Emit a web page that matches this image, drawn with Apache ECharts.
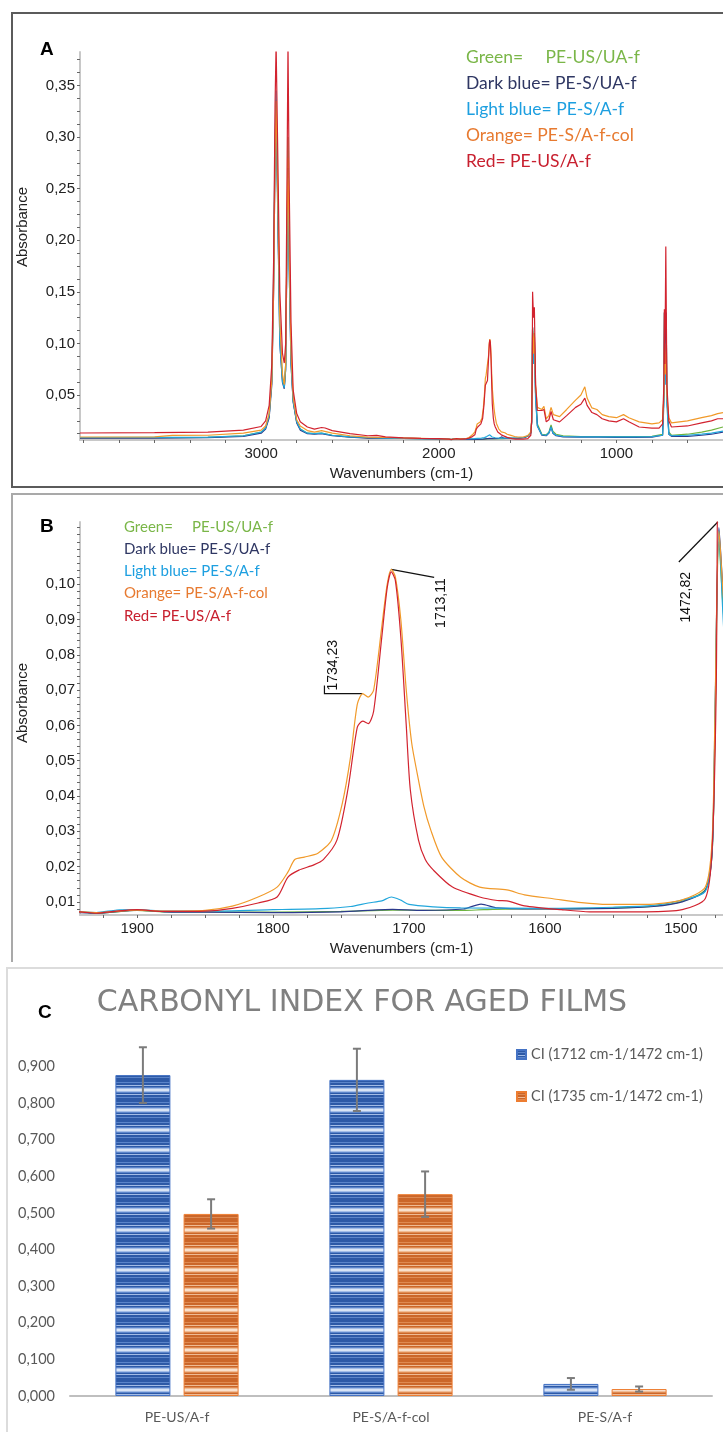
<!DOCTYPE html>
<html>
<head>
<meta charset="utf-8">
<script src="https://cdn.jsdelivr.net/npm/echarts@6/dist/echarts.min.js"></script>
<style>
html,body{margin:0;padding:0;background:#fff;}
#main{width:723px;height:1432px;}
</style>
</head>
<body>
<div id="main"></div>
<script>
// ---- spectra, [wavenumber, absorbance] ----
var specGreen = [[4020,0.0085],[3600,0.0087],[3300,0.0090],[3100,0.0105],[3000,0.014],[2975,0.018],[2955,0.030],[2940,0.065],[2930,0.16],[2922,0.29],[2916,0.336],[2908,0.25],[2895,0.11],[2880,0.065],[2870,0.058],[2862,0.08],[2855,0.20],[2849,0.30],[2842,0.19],[2832,0.085],[2820,0.045],[2800,0.024],[2780,0.017],[2740,0.013],[2700,0.0125],[2660,0.013],[2600,0.011],[2500,0.0095],[2400,0.0085],[2300,0.0082],[2100,0.0078],[2000,0.0074],
  [1942,0.0071],[1930,0.0068],[1900,0.0076],[1880,0.0072],[1850,0.0072],[1800,0.0071],[1750,0.0073],[1712,0.0077],[1690,0.0076],[1660,0.0076],[1645,0.0078],[1620,0.0080],[1600,0.0080],[1550,0.0083],[1520,0.0088],[1499,0.0102],[1482,0.0135],[1477,0.024],[1475,0.055],[1472,0.112],[1467,0.085],[1462,0.105],[1455,0.05],[1445,0.022],
  [1420,0.012],[1395,0.0115],[1380,0.014],[1368,0.021],[1358,0.015],[1340,0.012],[1300,0.0105],[1200,0.0098],[1100,0.0098],[1000,0.0097],[900,0.0098],[800,0.0100],[740,0.012],[733,0.05],[730,0.13],[725,0.08],[720,0.125],[716,0.05],[705,0.014],[690,0.011],[600,0.012],[520,0.014],[465,0.016],[400,0.019]];
var specDarkBlue = [[4020,0.0082],[3600,0.0083],[3300,0.0086],[3100,0.0098],[3000,0.013],[2975,0.017],[2955,0.028],[2940,0.06],[2930,0.15],[2922,0.28],[2916,0.33],[2908,0.24],[2895,0.10],[2880,0.062],[2870,0.056],[2862,0.075],[2855,0.19],[2849,0.27],[2842,0.17],[2832,0.08],[2820,0.043],[2800,0.023],[2780,0.016],[2740,0.0125],[2700,0.012],[2660,0.0125],[2600,0.0105],[2500,0.0092],[2400,0.0083],[2300,0.0081],[2100,0.0077],[2000,0.0073],
  [1942,0.0070],[1930,0.0068],[1900,0.0077],[1880,0.0072],[1850,0.0071],[1800,0.0070],[1750,0.0072],[1712,0.0079],[1690,0.0076],[1660,0.0080],[1647,0.0094],[1635,0.0083],[1600,0.0080],[1550,0.0082],[1520,0.0087],[1499,0.0100],[1482,0.0133],[1477,0.024],[1475,0.058],[1472,0.116],[1467,0.09],[1462,0.11],[1455,0.05],[1445,0.02],
  [1420,0.011],[1395,0.0105],[1380,0.013],[1368,0.019],[1358,0.013],[1340,0.0105],[1300,0.0095],[1200,0.0092],[1100,0.0092],[1000,0.0090],[900,0.0090],[800,0.0092],[740,0.011],[733,0.05],[730,0.13],[725,0.08],[720,0.13],[716,0.05],[705,0.012],[690,0.010],[600,0.010],[520,0.011],[465,0.012],[400,0.014]];
var specLightBlue = [[4020,0.0088],[3600,0.0089],[3300,0.0092],[3100,0.0105],[3000,0.014],[2975,0.018],[2955,0.03],[2940,0.065],[2930,0.17],[2922,0.30],[2916,0.345],[2908,0.25],[2895,0.10],[2880,0.063],[2870,0.057],[2862,0.075],[2855,0.19],[2849,0.26],[2842,0.17],[2832,0.08],[2820,0.044],[2800,0.024],[2780,0.017],[2740,0.013],[2700,0.0125],[2660,0.013],[2600,0.011],[2500,0.0095],[2400,0.0088],[2300,0.0083],[2100,0.0078],[2000,0.0075],
  [1942,0.0072],[1930,0.0070],[1915,0.0077],[1900,0.0078],[1880,0.0074],[1850,0.0074],[1800,0.0078],[1760,0.0082],[1743,0.0087],[1730,0.0097],[1720,0.0103],[1713,0.0114],[1706,0.0105],[1700,0.0093],[1682,0.0086],[1662,0.0083],[1600,0.0082],[1550,0.0085],[1520,0.0090],[1499,0.0105],[1482,0.0130],[1477,0.025],[1475,0.06],[1472,0.115],[1467,0.08],[1462,0.10],[1455,0.045],[1445,0.02],
  [1420,0.0115],[1395,0.011],[1380,0.0135],[1368,0.019],[1358,0.0135],[1340,0.011],[1300,0.0098],[1200,0.0095],[1100,0.0095],[1000,0.0094],[900,0.0094],[800,0.0096],[740,0.011],[733,0.04],[730,0.09],[725,0.06],[720,0.103],[716,0.04],[705,0.012],[690,0.0105],[600,0.011],[520,0.012],[465,0.013],[400,0.015]];
var specOrange = [[4020,0.0093],[3600,0.0095],[3500,0.0108],[3300,0.0110],[3100,0.0130],[3000,0.016],[2975,0.020],[2955,0.032],[2940,0.065],[2930,0.150],[2922,0.280],[2916,0.335],[2908,0.26],[2895,0.12],[2880,0.070],[2870,0.060],[2862,0.080],[2855,0.200],[2849,0.280],[2842,0.19],[2832,0.09],[2820,0.048],[2800,0.026],[2780,0.020],[2740,0.0155],[2700,0.014],[2660,0.0155],[2600,0.013],[2500,0.0105],[2400,0.0092],[2300,0.0088],[2100,0.0080],[2000,0.0076],
  [1942,0.0072],[1930,0.0070],[1900,0.0077],[1880,0.0074],[1850,0.0076],[1830,0.0088],[1811,0.0114],[1797,0.0142],[1789,0.0185],[1784,0.0220],[1777,0.0227],[1767,0.0238],[1757,0.0275],[1749,0.0380],[1743,0.0510],[1738,0.0660],[1734,0.0690],[1730,0.0680],[1726,0.0700],[1720,0.088],[1716,0.100],[1713,0.1042],[1710,0.102],[1706,0.090],[1702,0.070],[1698,0.055],[1694,0.0465],[1689,0.037],[1684,0.0304],[1676,0.0227],[1662,0.0170],[1648,0.0142],[1628,0.0134],[1615,0.0120],[1594,0.0109],[1573,0.0098],[1554,0.0093],[1526,0.0093],[1499,0.0106],[1482,0.0142],[1477,0.0275],[1475,0.061],[1472,0.115],[1467,0.09],[1462,0.11],[1455,0.06],[1445,0.038],
  [1420,0.036],[1408,0.039],[1395,0.027],[1380,0.030],[1368,0.038],[1355,0.031],[1320,0.029],[1280,0.036],[1230,0.045],[1200,0.050],[1178,0.058],[1165,0.047],[1138,0.0375],[1110,0.036],[1080,0.031],[1043,0.029],[1000,0.028],[960,0.031],[930,0.028],[872,0.024],[800,0.022],[760,0.023],[740,0.026],[733,0.05],[730,0.095],[725,0.07],[720,0.100],[716,0.05],[705,0.028],[690,0.023],[600,0.025],[520,0.028],[465,0.030],[430,0.032],[400,0.033]];
var specRed = [[4020,0.0132],[3600,0.0135],[3300,0.0140],[3100,0.0160],[3000,0.0195],[2975,0.025],[2955,0.040],[2940,0.080],[2930,0.180],[2922,0.330],[2916,0.39],[2908,0.30],[2895,0.15],[2880,0.090],[2870,0.081],[2862,0.100],[2855,0.250],[2849,0.39],[2842,0.25],[2832,0.12],[2820,0.055],[2800,0.032],[2780,0.024],[2740,0.019],[2700,0.017],[2660,0.0185],[2640,0.018],[2600,0.0155],[2500,0.0125],[2400,0.0105],[2350,0.0108],[2300,0.0095],[2200,0.0085],[2100,0.0080],[2000,0.0078],
  [1942,0.0072],[1930,0.0068],[1915,0.0074],[1900,0.0078],[1880,0.0073],[1850,0.0074],[1830,0.0082],[1811,0.0097],[1797,0.0114],[1789,0.0170],[1781,0.0190],[1770,0.0205],[1763,0.0220],[1753,0.0275],[1745,0.0417],[1738,0.0595],[1734,0.0612],[1730,0.0605],[1726,0.0640],[1720,0.085],[1716,0.099],[1713,0.1035],[1710,0.101],[1706,0.085],[1702,0.060],[1699,0.0417],[1693,0.0275],[1688,0.022],[1682,0.0190],[1668,0.0142],[1648,0.0114],[1635,0.0104],[1628,0.0103],[1615,0.0089],[1588,0.0078],[1567,0.0072],[1526,0.0072],[1499,0.0078],[1482,0.0110],[1477,0.0250],[1474,0.0700],[1472,0.150],[1467,0.125],[1462,0.135],[1455,0.06],[1445,0.035],
  [1420,0.035],[1408,0.036],[1395,0.024],[1380,0.026],[1368,0.034],[1355,0.026],[1320,0.024],[1280,0.030],[1230,0.038],[1200,0.041],[1178,0.047],[1165,0.040],[1138,0.033],[1110,0.031],[1080,0.027],[1043,0.025],[1000,0.024],[960,0.027],[930,0.024],[872,0.019],[800,0.018],[760,0.018],[740,0.022],[733,0.060],[730,0.133],[727,0.08],[722,0.194],[716,0.06],[705,0.025],[690,0.019],[600,0.020],[520,0.023],[465,0.025],[430,0.027],[400,0.027]];

var specNames  = ['PE-US/UA-f','PE-S/UA-f','PE-S/A-f','PE-S/A-f-col','PE-US/A-f'];
var specLegend = ['Green=     PE-US/UA-f','Dark blue= PE-S/UA-f','Light blue= PE-S/A-f','Orange= PE-S/A-f-col','Red= PE-US/A-f'];
var specData   = [specGreen, specDarkBlue, specLightBlue, specOrange, specRed];
var lineColors = ['#6db33f','#2c3a8c','#22a7dc','#f19a2a','#d2232f'];
var textColors = ['#7ab648','#2f3763','#1d9fe0','#e77a30','#c8202f'];

// peak labels in panel B
var peakWn  = [1713.11, 1734.23, 1472.82];
var peakAbs = [0.1042, 0.0690, 0.1176];
var peakTxt = ['1713,11','1734,23','1472,82'];

// ---- carbonyl index (panel C) ----
var ciCats   = ['PE-US/A-f','PE-S/A-f-col','PE-S/A-f'];
var ci1712   = [0.876, 0.863, 0.033];
var ci1712Er = [0.076, 0.085, 0.016];
var ci1735   = [0.497, 0.551, 0.019];
var ci1735Er = [0.040, 0.062, 0.007];
var ciNames  = ['CI (1712 cm-1/1472 cm-1)','CI (1735 cm-1/1472 cm-1)'];

var yTicksA  = [0.05,0.10,0.15,0.20,0.25,0.30,0.35];
var yTicksB  = [0.01,0.02,0.03,0.04,0.05,0.06,0.07,0.08,0.09,0.10];
var yTicksC  = [0,0.1,0.2,0.3,0.4,0.5,0.6,0.7,0.8,0.9];
var xTicksA  = [1000,2000,3000];
var xTicksB  = [1500,1600,1700,1800,1900];

var FONT = "'Liberation Sans', Arial, sans-serif";
var FONT2 = "Lato, 'Liberation Sans', sans-serif";

function comma(v, d){ return v.toFixed(d).replace('.', ','); }
function steps(a, b, s){ var r=[]; for (var v=a; v<=b+1e-9; v+=s) r.push(+v.toFixed(5)); return r; }

function stripes(rows){
    var c = document.createElement('canvas');
    c.width = 4; c.height = rows.length;
    var ctx = c.getContext('2d');
    for (var i=0;i<rows.length;i++){ ctx.fillStyle = rows[i]; ctx.fillRect(0,i,4,1); }
    return {image: c, repeat: 'repeat'};
}
// d = dark, m = mid, l = light, p = pale
function stripeRows(pal){
    return 'ddmddldmlpplmdlddmdd'.split('').map(function(k){ return pal[k]; });
}
var blueFill = stripes(stripeRows({d:'#2d59a6', m:'#5b84c9', l:'#a3bce6', p:'#d9e4f5'}));
var orangeFill = stripes(stripeRows({d:'#cb662a', m:'#df8a52', l:'#efbb95', p:'#f9e1cf'}));

var BAR_W = 55, BAR_GAP = 0.24;

var my_chart = echarts.init(document.getElementById('main'));

function specAxisY(idx, mn, mx, labels, ticks, dec){
    return {
        type:'value', gridIndex: idx, min: mn, max: mx,
        splitLine:{show:false},
        axisLine:{show:true, lineStyle:{color:'#c8c8c8', width:2}},
        axisTick:{show:true, length:3, lineStyle:{color:'#666'}, customValues: ticks},
        axisLabel:{fontFamily:FONT, fontSize:15, color:'#222', margin:5, customValues: labels,
            formatter:function(v){ return comma(v, dec); }}
    };
}
function specAxisX(idx, mn, mx, labels, ticks){
    return {
        type:'value', gridIndex: idx, min: mn, max: mx, inverse: true,
        name:'Wavenumbers (cm-1)', nameLocation:'middle', nameGap: 26,
        nameTextStyle:{fontFamily:FONT, fontSize:15, color:'#222'},
        splitLine:{show:false},
        axisLine:{show:true, onZero:false, lineStyle:{color:'#c8c8c8', width:2}},
        axisTick:{show:true, length:3, lineStyle:{color:'#666'}, customValues: ticks},
        axisLabel:{fontFamily:FONT, fontSize:15, color:'#222', margin:6, customValues: labels,
            formatter:function(v){ return String(v); }}
    };
}

var series = [];
[0,1].forEach(function(g){
    specData.forEach(function(d, i){
        series.push({
            name: specNames[i], type:'line', xAxisIndex:g, yAxisIndex:g,
            data: d, showSymbol:false, clip:true, silent:true,
            smooth: g === 1 ? 0.25 : false,
            lineStyle:{color: lineColors[i], width:1.2}, z: 2 + i
        });
    });
});
series.push({
    name: ciNames[0], type:'bar', xAxisIndex:2, yAxisIndex:2, data: ci1712,
    barWidth: BAR_W, barGap: (BAR_GAP*100)+'%',
    itemStyle:{color: blueFill, borderColor:'#4472c4', borderWidth:1}
});
series.push({
    name: ciNames[1], type:'bar', xAxisIndex:2, yAxisIndex:2, data: ci1735,
    barWidth: BAR_W,
    itemStyle:{color: orangeFill, borderColor:'#ed7d31', borderWidth:1}
});
function errRender(sign){
    return function(params, api){
        var c = api.value(0);
        var p1 = api.coord([c, api.value(1)]);
        var p2 = api.coord([c, api.value(2)]);
        var x = p1[0] + sign * BAR_W * (1 + BAR_GAP) / 2;
        var st = {stroke:'#7b7b7b', lineWidth:2};
        return {type:'group', children:[
            {type:'line', shape:{x1:x, y1:p1[1], x2:x, y2:p2[1]}, style:st},
            {type:'line', shape:{x1:x-4, y1:p1[1], x2:x+4, y2:p1[1]}, style:st},
            {type:'line', shape:{x1:x-4, y1:p2[1], x2:x+4, y2:p2[1]}, style:st}
        ]};
    };
}
[[ci1712, ci1712Er, -1],[ci1735, ci1735Er, 1]].forEach(function(s){
    series.push({
        type:'custom', xAxisIndex:2, yAxisIndex:2, z:5, silent:true,
        renderItem: errRender(s[2]),
        data: s[0].map(function(v, k){ return [k, v - s[1][k], v + s[1][k]]; })
    });
});

var graphics = [
    {type:'rect', shape:{x:12, y:13, width:740, height:474}, style:{fill:'none', stroke:'#5b5b5b', lineWidth:2}, z:-1},
    {type:'polyline', shape:{points:[[12,962],[12,494],[740,494]]}, style:{fill:'none', stroke:'#a9a9a9', lineWidth:2}, z:-1},
    {type:'polyline', shape:{points:[[7,1440],[7,968],[740,968]]}, style:{fill:'none', stroke:'#dcdcdc', lineWidth:2}, z:-1},
    {type:'text', x:40, y:50, style:{text:'A', font:'bold 19px '+FONT, fill:'#000', textVerticalAlign:'middle'}},
    {type:'text', x:40, y:527, style:{text:'B', font:'bold 19px '+FONT, fill:'#000', textVerticalAlign:'middle'}},
    {type:'text', x:38, y:1013, style:{text:'C', font:'bold 19px '+FONT, fill:'#000', textVerticalAlign:'middle'}},
    {type:'text', x:23, y:227, rotation:Math.PI/2, style:{text:'Absorbance', font:'15px '+FONT, fill:'#222', textAlign:'center', textVerticalAlign:'middle'}},
    {type:'text', x:23, y:703, rotation:Math.PI/2, style:{text:'Absorbance', font:'15px '+FONT, fill:'#222', textAlign:'center', textVerticalAlign:'middle'}},
    {type:'text', x:362, y:1003, style:{text:'CARBONYL INDEX FOR AGED FILMS', font:"30px 'DejaVu Sans', sans-serif", fill:'#808080', textAlign:'center', textVerticalAlign:'middle'}}
];
specLegend.forEach(function(t, i){
    graphics.push({type:'text', x:466, y:57 + i*26.2, style:{text:t, font:'17.5px '+FONT2, fill:textColors[i], textVerticalAlign:'middle'}});
    graphics.push({type:'text', x:124, y:527 + i*22.2, style:{text:t, font:'15px '+FONT2, fill:textColors[i], textVerticalAlign:'middle'}});
});

var option = {
    animation:false,
    backgroundColor:'#fff',
    grid:[
        {left:80, top:52, width:644, height:388},
        {left:80, top:522, width:643, height:393},
        {left:70, top:1037, width:642, height:359}
    ],
    xAxis:[
        specAxisX(0, 400, 4020, xTicksA, steps(400, 4000, 200)),
        specAxisX(1, 1469, 1942, xTicksB, steps(1475, 1925, 25)),
        {type:'category', gridIndex:2, data:ciCats,
         axisLine:{lineStyle:{color:'#bfbfbf', width:2}}, axisTick:{show:false},
         axisLabel:{fontFamily:FONT2, fontSize:14, color:'#595959', margin:14}}
    ],
    yAxis:[
        specAxisY(0, 0.0064, 0.3824, yTicksA, steps(0.0125, 0.375, 0.0125), 2),
        specAxisY(1, 0.0063, 0.1176, yTicksB, steps(0.008, 0.116, 0.002), 2),
        {type:'value', gridIndex:2, min:0, max:0.98,
         splitLine:{show:false}, axisLine:{show:false}, axisTick:{show:false},
         axisLabel:{fontFamily:FONT2, fontSize:14.5, color:'#595959', margin:15, customValues: yTicksC,
            formatter:function(v){ return comma(v, 3); }}}
    ],
    legend:{
        data: ciNames, orient:'vertical', left:511, top:1042, itemGap:27,
        itemWidth:9, itemHeight:9, icon:'rect',
        textStyle:{fontFamily:FONT2, fontSize:14.5, color:'#595959'}
    },
    graphic: graphics,
    series: series
};
my_chart.setOption(option);

// peak labels placed from data coordinates
var ann = [];
var pts = peakWn.map(function(w, i){ return my_chart.convertToPixel({gridIndex:1}, [w, peakAbs[i]]); });
var ls = {stroke:'#111', lineWidth:1.2, fill:'none'};
var tf = '14px ' + FONT;
// 1713,11
ann.push({type:'polyline', shape:{points:[pts[0], [pts[0][0]+43, pts[0][1]+8]]}, style:ls});
ann.push({type:'text', x:pts[0][0]+50, y:pts[0][1]+9, rotation:Math.PI/2, style:{text:peakTxt[0], font:tf, fill:'#111', textAlign:'right', textVerticalAlign:'middle'}});
// 1734,23
ann.push({type:'polyline', shape:{points:[pts[1], [pts[1][0]-38, pts[1][1]], [pts[1][0]-38, pts[1][1]-8]]}, style:ls});
ann.push({type:'text', x:pts[1][0]-29, y:pts[1][1]-3, rotation:Math.PI/2, style:{text:peakTxt[1], font:tf, fill:'#111', textAlign:'left', textVerticalAlign:'middle'}});
// 1472,82
ann.push({type:'polyline', shape:{points:[pts[2], [pts[2][0]-39, pts[2][1]+40]]}, style:ls});
ann.push({type:'text', x:pts[2][0]-32, y:pts[2][1]+50, rotation:Math.PI/2, style:{text:peakTxt[2], font:tf, fill:'#111', textAlign:'right', textVerticalAlign:'middle'}});

my_chart.setOption({graphic: graphics.concat(ann)});
</script>
</body>
</html>
